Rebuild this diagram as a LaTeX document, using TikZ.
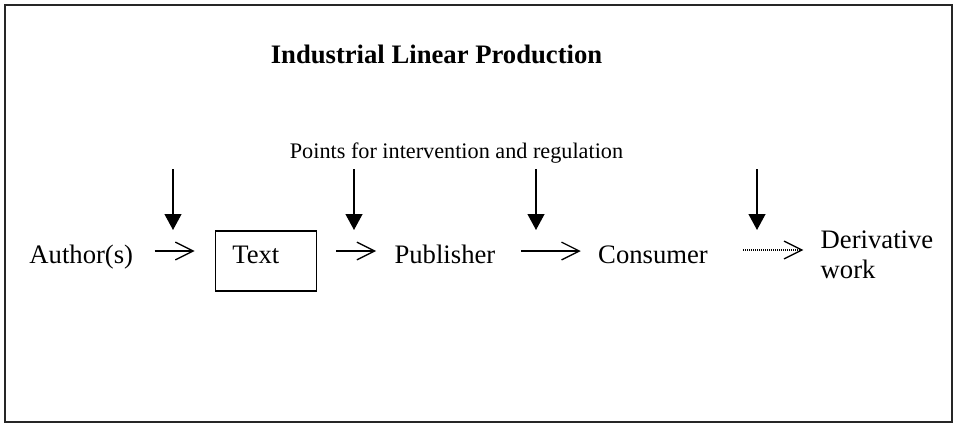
\documentclass[tikz,border=0pt]{standalone}
\usepackage{fontspec}
\setmainfont{Liberation Serif}
\usetikzlibrary{arrows.meta,positioning}

\begin{document}
\begin{tikzpicture}[x=0.45pt,y=-0.45pt]
\tikzstyle{item}=[inner sep=0pt, font=\fontsize{12}{13.5}\selectfont]
\tikzstyle{box}=[item, draw=black, line width=0.7pt, inner xsep=7.65pt, text width=30.15pt, align=left, text height=14.4pt, text depth=12.6pt]
\tikzstyle{flow}=[line width=0.6pt, -{Straight Barb[length=8pt,width=8pt]}]
\tikzstyle{weak}=[flow, dash pattern=on 0.45pt off 0.45pt]
\tikzstyle{point}=[line width=0.7pt, -{Triangle[length=7.2pt,width=7.6pt]}]
  \useasboundingbox (0,0) rectangle (955,424);
  \draw[line width=0.9pt, black!85] (5,4.5) rectangle (951.5,422);
  \node[font=\fontsize{12}{14}\selectfont\bfseries, anchor=base] (title) at (436.5,63) {Industrial Linear Production};
  \node[font=\fontsize{10}{12}\selectfont, anchor=base] (points) at (456.5,158) {Points for intervention and regulation};
  \node[item, anchor=base west] (author) at (29,263) {Author(s)};
  \node[box] (text) [base right=36.45pt of author] {Text};
  \node[item] (publisher) [base right=34.65pt of text] {Publisher};
  \node[item] (consumer) [base right=45.9pt of publisher] {Consumer};
  \node[item, align=left] (derivative) [right=50.4pt of consumer] {Derivative\\work};
  \draw[flow, shorten <=9.45pt, shorten >=9pt] ([yshift=5.4pt]author.base east) -- ([yshift=5.4pt]text.base west);
  \draw[flow, shorten <=8.55pt, shorten >=8.1pt] ([yshift=5.4pt]text.base east) -- ([yshift=5.4pt]publisher.base west);
  \draw[flow, shorten <=11.25pt, shorten >=7.65pt] ([yshift=5.4pt]publisher.base east) -- ([yshift=5.4pt]consumer.base west);
  \draw[weak, shorten <=15.75pt, shorten >=7.65pt] ([yshift=5.85pt]consumer.base east) -- ([yshift=5.85pt]consumer.base east -| derivative.west);
  % intervention points
  \coordinate (top1) at (173,169);
  \coordinate (tip1) at (173,230);
  \coordinate (top2) at (354,169);
  \coordinate (tip2) at (354,230);
  \coordinate (top3) at (536,169);
  \coordinate (tip3) at (536,230);
  \coordinate (top4) at (757,169);
  \coordinate (tip4) at (757,230);
  \draw[point] (top1) -- (tip1);
  \draw[point] (top2) -- (tip2);
  \draw[point] (top3) -- (tip3);
  \draw[point] (top4) -- (tip4);
\end{tikzpicture}
\end{document}
